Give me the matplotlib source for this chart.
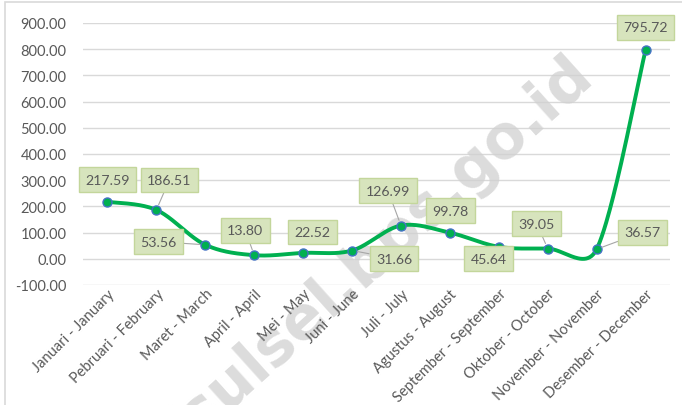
import numpy as np
import matplotlib
matplotlib.use("Agg")
import matplotlib.pyplot as plt
from matplotlib.patches import Rectangle
from matplotlib.ticker import FuncFormatter

plt.rcParams['font.family'] = ['Lato', 'DejaVu Sans']

categories = ["Januari - January", "Pebruari - February", "Maret - March", "April - April",
              "Mei - May", "Juni - June", "Juli - July", "Agustus - August",
              "September - September", "Oktober - October", "November - November",
              "Desember - December"]
values = [217.59, 186.51, 53.56, 13.80, 22.52, 31.66, 126.99, 99.78, 45.64, 39.05, 36.57, 795.72]
y_ticks = [-100, 0, 100, 200, 300, 400, 500, 600, 700, 800, 900]

# label offsets in pixels (dx, dy) and whether leader line is drawn
label_offsets = [(0, 22), (13, 30), (-47, 3), (-9, 25), (9, 21), (42, -8),
                 (-13, 35), (1, 22), (-10, -12), (-11, 25), (46, 17), (0, 23)]
leaders = [False, True, True, True, False, True, True, False, False, True, True, False]

W, H = 682, 406
fig = plt.figure(figsize=(W / 100, H / 100), dpi=100)
ax = fig.add_axes([83 / W, (H - 286) / H, 587 / W, 262 / H])

x = np.arange(len(categories))
ax.set_xlim(-0.5, len(categories) - 0.5)
ax.set_ylim(y_ticks[0], y_ticks[-1])
ax.set_yticks(y_ticks)
ax.yaxis.set_major_formatter(FuncFormatter(lambda v, p: f"{v:.2f}"))
ax.set_xticks(x)
ax.set_xticklabels(categories, rotation=45, ha='right', va='top', rotation_mode='anchor')
ax.tick_params(axis='both', length=0, colors='#595959', labelsize=10.5)
ax.tick_params(axis='y', pad=12)
ax.tick_params(axis='x', pad=1)
for s in ax.spines.values():
    s.set_visible(False)
ax.grid(False)
ax.set_axisbelow(False)
for yt in y_ticks:
    ax.axhline(yt, color='#D9D9D9', lw=1.0, zorder=1)


def excel_smooth(xd, yd, n=50):
    P = ax.transData.transform(np.column_stack([xd, yd]))
    out = []
    m = len(P)
    for i in range(m - 1):
        p0 = P[i - 1] if i > 0 else P[i]
        p1 = P[i]
        p2 = P[i + 1]
        p3 = P[i + 2] if i + 2 < m else P[i + 1]
        d02 = np.linalg.norm(p2 - p0)
        d12 = np.linalg.norm(p2 - p1)
        d13 = np.linalg.norm(p3 - p1)
        f1 = min(1 / 6, d12 / (2 * d02)) if d02 > 0 else 0
        f2 = min(1 / 6, d12 / (2 * d13)) if d13 > 0 else 0
        c1 = p1 + f1 * (p2 - p0)
        c2 = p2 - f2 * (p3 - p1)
        t = np.linspace(0, 1, n)[:, None]
        seg = ((1 - t) ** 3) * p1 + 3 * ((1 - t) ** 2) * t * c1 + 3 * (1 - t) * t ** 2 * c2 + t ** 3 * p2
        out.append(seg if i == 0 else seg[1:])
    pts = np.vstack(out)
    return ax.transData.inverted().transform(pts)


curve = excel_smooth(x, values)
ax.plot(curve[:, 0], curve[:, 1], color='#00B050', lw=2.8, solid_capstyle='round', zorder=3)
ax.plot(x, values, 'o', color='#00B050', mec='#4472C4', mew=1.0, ms=6.5, zorder=4)

for xi, v, (dx, dy), ld in zip(x, values, label_offsets, leaders):
    kw = {}
    if ld:
        kw['arrowprops'] = dict(arrowstyle='-', color='#A6A6A6', lw=0.8, shrinkA=0, shrinkB=4)
    ax.annotate(f"{v:.2f}", xy=(xi, v), xytext=(dx, dy), textcoords='offset pixels',
                ha='center', va='center', fontsize=10.2, color='#595959', zorder=5,
                bbox=dict(boxstyle='square,pad=0.45', fc='#D7E4BD', ec='#C3D69B', lw=1.0),
                annotation_clip=False, **kw)

# chart frame
fig.patches.append(Rectangle((5 / W, -0.1), 1.2, (H - 3) / H + 0.1, transform=fig.transFigure,
                             fill=False, ec='#D9D9D9', lw=1.2, zorder=0))

# watermark (above gridlines, below labels)
ax.text(584 / W, (H - 66) / H, "https://sulsel.bps.go.id", rotation=42, rotation_mode='anchor',
        ha='right', va='center', fontsize=43, fontweight='bold', color='#D0D0D0', alpha=0.75,
        family=['DejaVu Sans'], zorder=2, transform=fig.transFigure, clip_on=False)

fig.savefig('out.png', dpi=100)
